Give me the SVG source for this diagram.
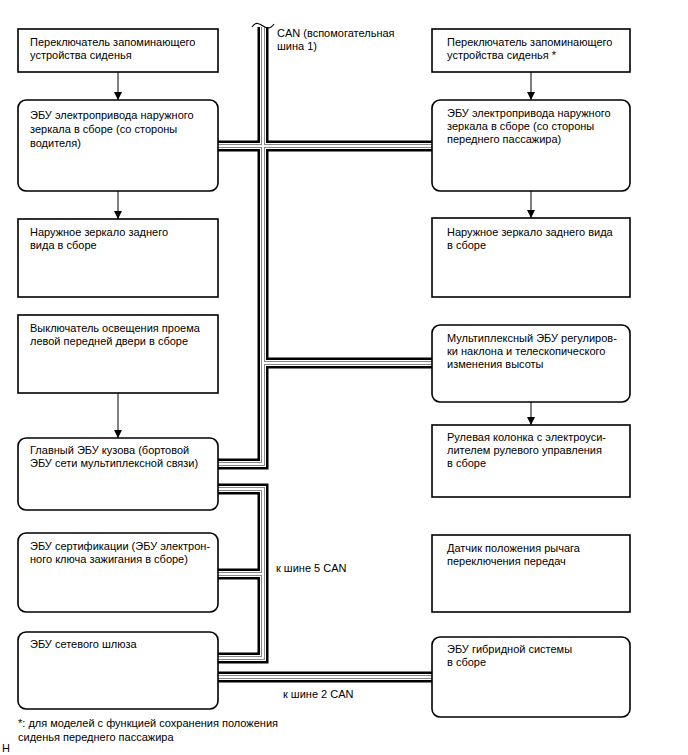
<svg xmlns="http://www.w3.org/2000/svg" xmlns:xlink="http://www.w3.org/1999/xlink" width="688" height="755" viewBox="0 0 688 755">
<style>
text{font-family:"Liberation Sans",Arial,sans-serif;font-size:11px;fill:#000}
.box{fill:#fff;stroke:#000;stroke-width:1.6}
.arrow{stroke:#000;stroke-width:1;fill:none;marker-end:url(#ah)}
.b1{fill:none;stroke:#000;stroke-width:11}
.b2{fill:none;stroke:#fff;stroke-width:6}
.b3{fill:none;stroke:#888;stroke-width:4}
.b4{fill:none;stroke:#fff;stroke-width:2}
</style>
<defs>
<marker id="ah" viewBox="0 0 8 10" refX="8" refY="5" markerWidth="8" markerHeight="10" markerUnits="userSpaceOnUse" orient="auto">
<path d="M0,1 L8,5 L0,9 Z" fill="#000"/>
</marker>
<path id="bus" d="M263,27 V464 H218 M218,146 H432 M263,363 H432 M218,489 H263 V658 H218 M263,574 H218 M218,677 H432"/>
</defs>
<rect width="688" height="755" fill="#fff"/>
<g id="connectors">
<use xlink:href="#bus" class="b1"/>
<use xlink:href="#bus" class="b2"/>
<use xlink:href="#bus" class="b3"/>
<use xlink:href="#bus" class="b4"/>
<path d="M252,27 C256,21 260,24 263,26 C266,28 270,30 274,24" fill="none" stroke="#000" stroke-width="1.2"/>
<line class="arrow" x1="118" y1="72" x2="118" y2="100"/>
<line class="arrow" x1="118" y1="191" x2="118" y2="219"/>
<line class="arrow" x1="118" y1="393" x2="118" y2="438"/>
<line class="arrow" x1="531" y1="72" x2="531" y2="100"/>
<line class="arrow" x1="531" y1="191" x2="531" y2="218"/>
<line class="arrow" x1="531" y1="402" x2="531" y2="425"/>
</g>
<g id="n1"><rect class="box" x="18" y="29" width="200" height="43"/><text x="30" y="46">Переключатель запоминающего</text><text x="30" y="59">устройства сиденья</text></g>
<g id="n2"><rect class="box" x="18" y="100" width="200" height="91" rx="8"/><text x="30" y="119">ЭБУ электропривода наружного</text><text x="30" y="133">зеркала в сборе (со стороны</text><text x="30" y="147">водителя)</text></g>
<g id="n3"><rect class="box" x="18" y="219" width="200" height="78"/><text x="30" y="236">Наружное зеркало заднего</text><text x="30" y="249">вида в сборе</text></g>
<g id="n4"><rect class="box" x="18" y="315" width="200" height="78"/><text x="30" y="332">Выключатель освещения проема</text><text x="30" y="345">левой передней двери в сборе</text></g>
<g id="n5"><rect class="box" x="18" y="438" width="200" height="72" rx="8"/><text x="30" y="454">Главный ЭБУ кузова (бортовой</text><text x="30" y="467">ЭБУ сети мультиплексной связи)</text></g>
<g id="n6"><rect class="box" x="18" y="533" width="200" height="79" rx="8"/><text x="30" y="550">ЭБУ сертификации (ЭБУ электрон-</text><text x="30" y="563">ного ключа зажигания в сборе)</text></g>
<g id="n7"><rect class="box" x="18" y="632" width="200" height="77" rx="8"/><text x="30" y="648">ЭБУ сетевого шлюза</text></g>
<g id="n8"><rect class="box" x="432" y="29" width="198" height="43"/><text x="447" y="46">Переключатель запоминающего</text><text x="447" y="59">устройства сиденья *</text></g>
<g id="n9"><rect class="box" x="432" y="100" width="198" height="91" rx="8"/><text x="447" y="117">ЭБУ электропривода наружного</text><text x="447" y="130">зеркала в сборе (со стороны</text><text x="447" y="143">переднего пассажира)</text></g>
<g id="n10"><rect class="box" x="432" y="218" width="198" height="79"/><text x="447" y="236">Наружное зеркало заднего вида</text><text x="447" y="249">в сборе</text></g>
<g id="n11"><rect class="box" x="432" y="325" width="198" height="77" rx="8"/><text x="447" y="342">Мультиплексный ЭБУ регулиров-</text><text x="447" y="355">ки наклона и телескопического</text><text x="447" y="368">изменения высоты</text></g>
<g id="n12"><rect class="box" x="432" y="425" width="198" height="72"/><text x="447" y="441">Рулевая колонка с электроуси-</text><text x="447" y="454">лителем рулевого управления</text><text x="447" y="467">в сборе</text></g>
<g id="n13"><rect class="box" x="432" y="535" width="198" height="77"/><text x="447" y="552">Датчик положения рычага</text><text x="447" y="565">переключения передач</text></g>
<g id="n14"><rect class="box" x="432" y="637" width="198" height="80" rx="8"/><text x="447" y="653">ЭБУ гибридной системы</text><text x="447" y="666">в сборе</text></g>
<g id="labels">
<text x="277" y="37">CAN (вспомогательная</text>
<text x="277" y="50">шина 1)</text>
<text x="276" y="572">к шине 5 CAN</text>
<text x="283" y="698">к шине 2 CAN</text>
<text x="18" y="727">*: для моделей с функцией сохранения положения</text>
<text x="18" y="741">сиденья переднего пассажира</text>
<text x="2" y="752">H</text>
</g>
</svg>
